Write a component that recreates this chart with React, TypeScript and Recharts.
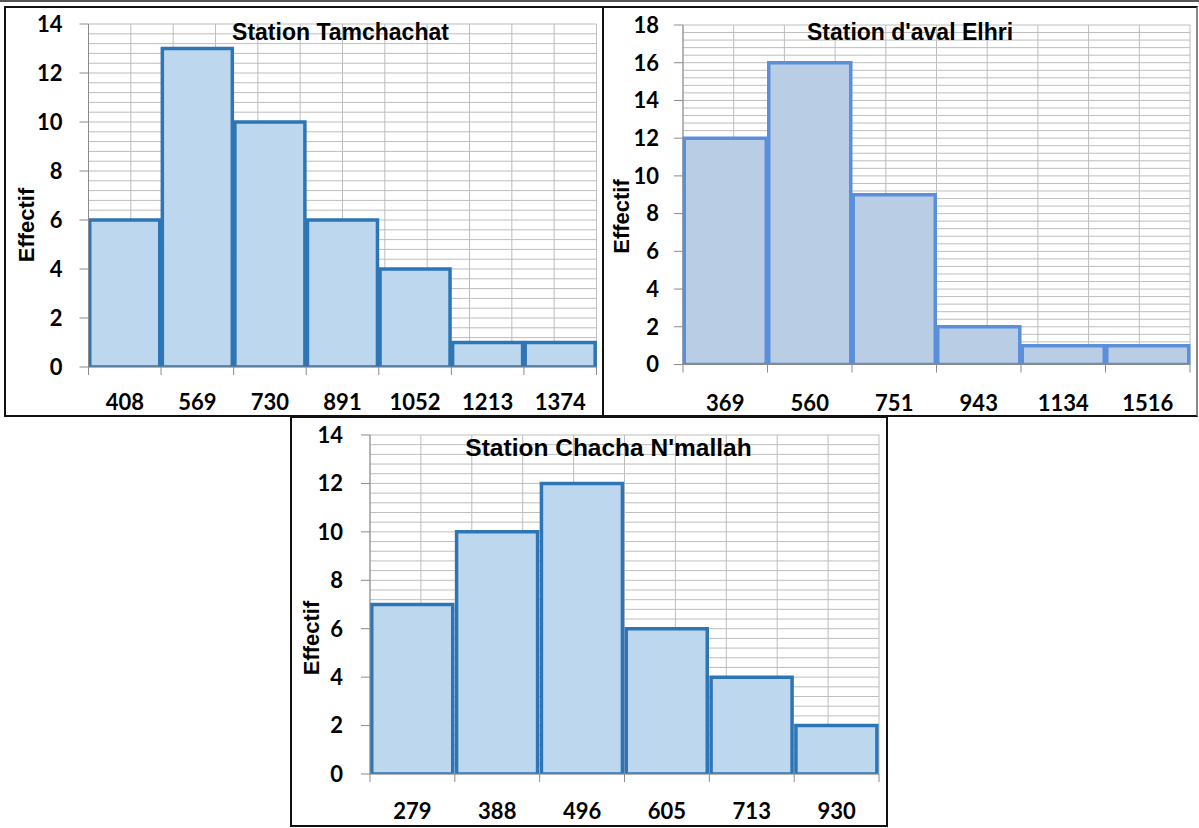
import React from 'react';
import { BarChart, Bar, XAxis, YAxis, CartesianGrid } from 'recharts';

// ---- data ----
const tamLabels = ['408', '569', '730', '891', '1052', '1213', '1374'];
const tamValues = [6, 13, 10, 6, 4, 1, 1];

const elhLabels = ['369', '560', '751', '943', '1134', '1516'];
const elhValues = [12, 16, 9, 2, 1, 1];

const chaLabels = ['279', '388', '496', '605', '713', '930'];
const chaValues = [7, 10, 12, 6, 4, 2];

const yTicks14 = [0, 2, 4, 6, 8, 10, 12, 14];
const yTicks18 = [0, 2, 4, 6, 8, 10, 12, 14, 16, 18];

const titles = ['Station Tamchachat', "Station d'aval Elhri", "Station Chacha N'mallah"];

// ---- layout / style configs ----
type Cfg = {
  title: string;
  labels: string[];
  values: number[];
  yTicks: number[];
  left: number;
  top: number;
  width: number;
  height: number;
  plotL: number;
  plotT: number;
  plotR: number;
  plotB: number;
  yTickMargin: number;
  xLabelOffset: number;
  fill: string;
  stroke: string;
  gap: number;
  effX: number;
  effY: number;
  titleX: number;
  titleY: number;
  titleSize: number;
};

const panels: Cfg[] = [
  {
    title: titles[0], labels: tamLabels, values: tamValues, yTicks: yTicks14,
    left: 0, top: 0, width: 605, height: 417,
    plotL: 88.5, plotT: 24, plotR: 596.5, plotB: 367,
    yTickMargin: 17, xLabelOffset: 34.5,
    fill: '#bdd7ee', stroke: '#2e75b6', gap: 1.25,
    effX: 26.7, effY: 225, titleX: 340.5, titleY: 33, titleSize: 23,
  },
  {
    title: titles[1], labels: elhLabels, values: elhValues, yTicks: yTicks18,
    left: 603, top: 0, width: 596, height: 417,
    plotL: 683, plotT: 25, plotR: 1190, plotB: 364.5,
    yTickMargin: 15, xLabelOffset: 37.5,
    fill: '#b9cde5', stroke: '#5b8fd9', gap: 1.25,
    effX: 621, effY: 216.5, titleX: 910, titleY: 33, titleSize: 23,
  },
  {
    title: titles[2], labels: chaLabels, values: chaValues, yTicks: yTicks14,
    left: 290, top: 417, width: 598, height: 411,
    plotL: 370, plotT: 435, plotR: 879, plotB: 774,
    yTickMargin: 18, xLabelOffset: 36,
    fill: '#bdd7ee', stroke: '#2e75b6', gap: 1.75,
    effX: 311, effY: 638, titleX: 608.5, titleY: 448, titleSize: 24.5,
  },
];

const XH = 40;
const AXIS = '#8a8a8a';
const GRID = '#bdbdbd';
const TICK_FONT = 'Lato, "Open Sans", sans-serif';
const TICK_SIZE = 22;
const TITLE_FONT = '"Liberation Sans", Arial, sans-serif';

const XTick = (props: any) => {
  const { x, y, payload, index, lo, n, fallbackHalf } = props;
  const half = payload && typeof payload.offset === 'number' && payload.offset > 0 ? payload.offset : fallbackHalf;
  return (
    <g>
      <line x1={x - half} x2={x - half} y1={y} y2={y + 8} stroke={AXIS} strokeWidth={1} />
      {index === n - 1 && (
        <line x1={x + half} x2={x + half} y1={y} y2={y + 8} stroke={AXIS} strokeWidth={1} />
      )}
      <text
        x={x}
        y={y + lo}
        textAnchor="middle"
        dominantBaseline="central"
        fill="#000"
        style={{ fontFamily: TICK_FONT, fontWeight: 700, fontSize: TICK_SIZE }}
      >
        {payload.value}
      </text>
    </g>
  );
};

const EffLabel = (props: any) => {
  const { px, py } = props;
  return (
    <text
      x={px}
      y={py}
      transform={`rotate(-90 ${px} ${py})`}
      textAnchor="middle"
      dominantBaseline="central"
      fill="#000"
      style={{ fontFamily: TITLE_FONT, fontWeight: 700, fontSize: 22 }}
    >
      Effectif
    </text>
  );
};

function Panel({ cfg }: { cfg: Cfg }) {
  const data = cfg.labels.map((label, i) => ({ label, value: cfg.values[i] }));
  const n = data.length;
  const yMax = cfg.yTicks[cfg.yTicks.length - 1];
  const halfTicks = Array.from({ length: 2 * n + 1 }, (_, i) => i / 2);
  const minorTicks = Array.from({ length: Math.round(yMax / 0.4) + 1 }, (_, i) => Math.round(i * 0.4 * 100) / 100);
  const margin = {
    top: cfg.plotT - cfg.top,
    right: cfg.left + cfg.width - cfg.plotR,
    left: 0,
    bottom: cfg.top + cfg.height - cfg.plotB - XH,
  };
  const fallbackHalf = (cfg.plotR - cfg.plotL) / n / 2;
  return (
    <div style={{ position: 'absolute', left: cfg.left, top: cfg.top }}>
      <BarChart width={cfg.width} height={cfg.height} data={data} margin={margin} barCategoryGap={cfg.gap}>
        <CartesianGrid xAxisId="zgrid" yAxisId="zminor" stroke={GRID} strokeWidth={1} fill="none" />
        <XAxis
          xAxisId="c"
          dataKey="label"
          height={XH}
          interval={0}
          tickLine={false}
          tickSize={0}
          tickMargin={0}
          axisLine={{ stroke: AXIS, strokeWidth: 1 }}
          tick={<XTick lo={cfg.xLabelOffset} n={n} fallbackHalf={fallbackHalf} />}
        />
        <YAxis
          yAxisId="v"
          type="number"
          width={cfg.plotL - cfg.left}
          domain={[0, yMax]}
          ticks={cfg.yTicks}
          interval={0}
          allowDataOverflow
          tickSize={9}
          tickMargin={cfg.yTickMargin}
          axisLine={{ stroke: AXIS, strokeWidth: 1 }}
          tickLine={{ stroke: AXIS, strokeWidth: 1 }}
          tick={{ fontFamily: TICK_FONT, fontWeight: 700, fontSize: TICK_SIZE, fill: '#000' }}
          label={<EffLabel px={cfg.effX - cfg.left} py={cfg.effY - cfg.top} />}
        />
        <XAxis
          xAxisId="zgrid"
          orientation="top"
          type="number"
          domain={[0, n]}
          ticks={halfTicks}
          interval={0}
          hide
          allowDataOverflow
        />
        <YAxis
          yAxisId="zminor"
          orientation="right"
          type="number"
          domain={[0, yMax]}
          ticks={minorTicks}
          interval={0}
          hide
          allowDataOverflow
        />
        <Bar
          xAxisId="c"
          yAxisId="v"
          dataKey="value"
          fill={cfg.fill}
          stroke={cfg.stroke}
          strokeWidth={3.5}
          isAnimationActive={false}
        />
      </BarChart>
      <div
        style={{
          position: 'absolute',
          left: cfg.titleX - cfg.left - 300,
          top: cfg.titleY - cfg.top - cfg.titleSize * 0.6,
          width: 600,
          textAlign: 'center',
          fontFamily: TITLE_FONT,
          fontWeight: 700,
          fontSize: cfg.titleSize,
          lineHeight: `${cfg.titleSize * 1.2}px`,
          color: '#000',
          whiteSpace: 'nowrap',
        }}
      >
        {cfg.title}
      </div>
    </div>
  );
}

export default function App() {
  return (
    <div style={{ position: 'absolute', left: 0, top: 0, width: 1199, height: 828, background: '#fff', overflow: 'hidden' }}>
      <div style={{ position: 'absolute', left: 0, top: 0, width: 1199, height: 2, background: '#555' }} />
      <div style={{ position: 'absolute', left: 4, top: 6, width: 600, height: 411, boxSizing: 'border-box', border: '2px solid #111' }} />
      <div style={{ position: 'absolute', left: 602, top: 6, width: 596, height: 411, boxSizing: 'border-box', border: '2px solid #111', borderRightColor: '#888' }} />
      <div style={{ position: 'absolute', left: 290, top: 416, width: 598, height: 411, boxSizing: 'border-box', border: '2px solid #111' }} />
      {panels.map((cfg) => (
        <Panel key={cfg.title} cfg={cfg} />
      ))}
    </div>
  );
}
